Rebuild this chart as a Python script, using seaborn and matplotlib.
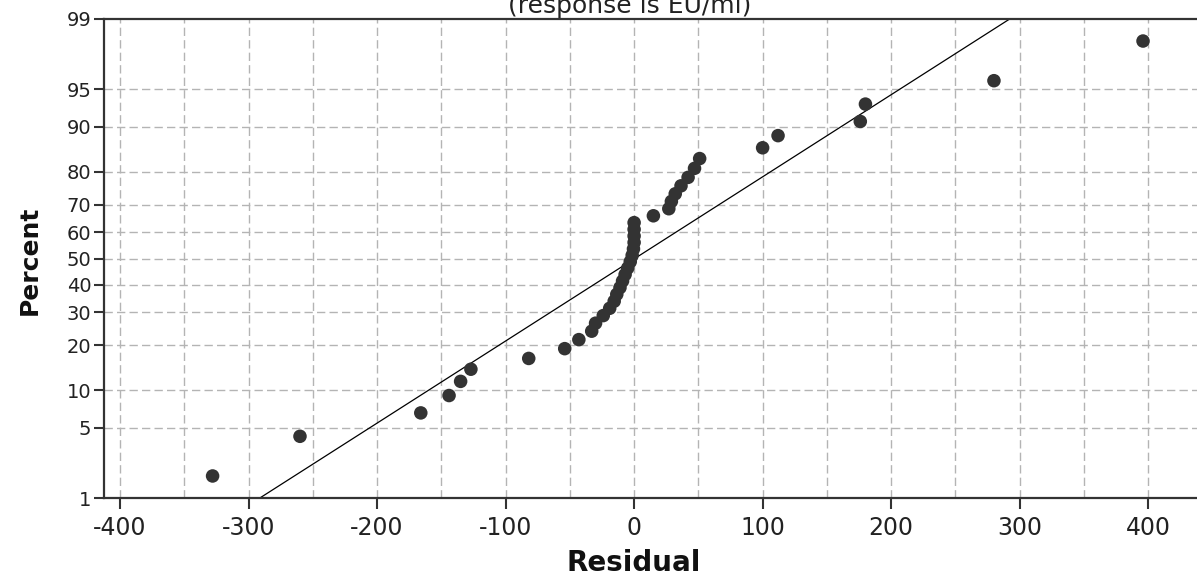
import matplotlib
matplotlib.use("Agg")
import matplotlib.pyplot as plt
import seaborn as sns
import pandas as pd
import numpy as np
from statistics import NormalDist

# ---- data (sorted residuals, n = 40) ----
residuals = [-328, -260, -166, -144, -135, -127, -82, -54, -43, -33,
             -30, -24, -19, -15.5, -13.5, -11, -9, -7, -5, -3,
             -1.5, -0.5, 0, 0, 0, 0, 15, 27, 29, 32,
             36.5, 42, 47, 51, 100, 112, 176, 180, 280, 396]
ytick_percent = [1, 5, 10, 20, 30, 40, 50, 60, 70, 80, 90, 95, 99]
xtick_values = [-400, -300, -200, -100, 0, 100, 200, 300, 400]
xgrid_values = [-400, -350, -300, -250, -200, -150, -100, -50, 0,
                50, 100, 150, 200, 250, 300, 350, 400]
fit_mean = 0.5
fit_sd = 125.4
title_text = "(response is EU/ml)"
xlabel_text = "Residual"
ylabel_text = "Percent"

nd = NormalDist()
n = len(residuals)
# Minitab median-rank plotting positions
percent = [(i - 0.3) / (n + 0.4) * 100 for i in range(1, n + 1)]
df = pd.DataFrame({"Residual": residuals,
                   "z": [nd.inv_cdf(p / 100) for p in percent]})

line_p = [1, 99]
line_df = pd.DataFrame({"z": [nd.inv_cdf(p / 100) for p in line_p]})
line_df["Residual"] = fit_mean + fit_sd * line_df["z"]

sns.set_theme(style="white")
plt.rcParams["font.family"] = ["DejaVu Sans"]

W, H = 1197, 578
fig = plt.figure(figsize=(W / 100, H / 100), dpi=100)
ax = fig.add_axes([104 / W, 80 / H, 1093 / W, 479 / H])

grid_kw = dict(color="#b4b4b4", linestyle=(0, (6, 3)), linewidth=1.0, zorder=0)
for gx in xgrid_values:
    ax.axvline(gx, **grid_kw)
for p in ytick_percent[1:-1]:
    ax.axhline(nd.inv_cdf(p / 100), **grid_kw)

sns.lineplot(data=line_df, x="Residual", y="z", sort=False, ax=ax,
             color="black", linewidth=0.9, zorder=2)
sns.scatterplot(data=df, x="Residual", y="z", ax=ax, s=95,
                color="#333333", edgecolor="none", zorder=3)

ax.set_xlim(-412.5, 438)
ax.set_ylim(nd.inv_cdf(0.01), nd.inv_cdf(0.99))
ax.set_xticks(xtick_values)
ax.set_xticklabels([str(v) for v in xtick_values])
ax.set_yticks([nd.inv_cdf(p / 100) for p in ytick_percent])
ax.set_yticklabels([str(p) for p in ytick_percent])
ax.tick_params(axis="x", direction="out", length=8, width=1.5, color="#333333",
               labelsize=17, labelcolor="#222222", pad=5, bottom=True)
ax.tick_params(axis="y", direction="out", length=7, width=1.5, color="#333333",
               labelsize=14, labelcolor="#222222", pad=2, left=True)

for side in ["left", "bottom", "top"]:
    ax.spines[side].set_visible(True)
    ax.spines[side].set_color("#333333")
    ax.spines[side].set_linewidth(1.6)
ax.spines["right"].set_visible(False)

ax.set_xlabel("")
ax.set_ylabel("")
fig.text(634 / W, 1 - 563 / H, xlabel_text, ha="center", va="center",
         fontsize=20, fontweight="bold", color="#111111")
fig.text(30 / W, 1 - 260 / H, ylabel_text, ha="center", va="center",
         rotation=90, fontsize=18, fontweight="bold", color="#111111")
fig.text(630 / W, 1 - 13 / H, title_text, ha="center", va="baseline",
         fontsize=18, color="#222222")

fig.savefig("out.png", dpi=100)
